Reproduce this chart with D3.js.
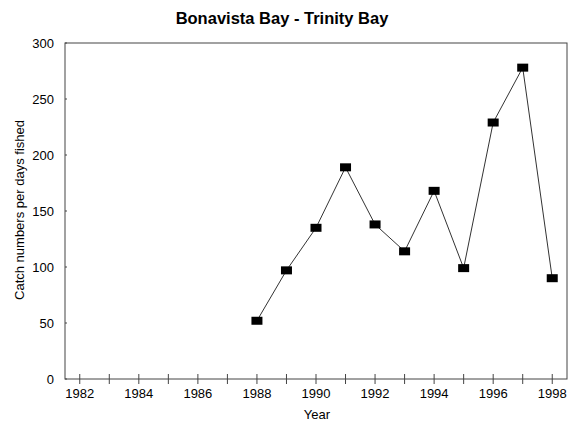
<!DOCTYPE html>
<html>
<head>
<meta charset="utf-8">
<script src="https://cdn.jsdelivr.net/npm/d3@7"></script>
<style>
  body { margin: 0; background: #fff; }
  svg { display: block; font-family: "Liberation Sans", Arial, sans-serif; }
</style>
</head>
<body>
<svg id="chart" width="571" height="426"></svg>
<script>
// catch rates
let years = [1988, 1989, 1990, 1991, 1992, 1993, 1994, 1995, 1996, 1997, 1998];
let catchRate = [52, 97, 135, 189, 138, 114, 168, 99, 229, 278, 90];
let yTicks = [0, 50, 100, 150, 200, 250, 300];
let xTicks = d3.range(1982, 1999);
let xLabels = d3.range(1982, 1999, 2);

let svg = d3.select('#chart');
let plotL = 65, plotR = 567, plotT = 43, plotB = 379;

let x = d3.scaleLinear().domain([1981.5, 1998.5]).range([plotL, plotR]);
let y = d3.scaleLinear().domain([0, 300]).range([plotB, plotT]);

// frame
svg.append('rect')
  .attr('x', plotL).attr('y', plotT)
  .attr('width', plotR - plotL).attr('height', plotB - plotT)
  .attr('fill', 'none').attr('stroke', '#444').attr('stroke-width', 1);

// x axis ticks cross the axis line
let xAxis = svg.append('g').attr('transform', `translate(0,${plotB})`);
xAxis.selectAll('.xtick')
  .data(xTicks)
  .join('line')
  .attr('x1', d => x(d)).attr('x2', d => x(d))
  .attr('y1', -5).attr('y2', 5)
  .attr('stroke', '#444');
xAxis.selectAll('.xlab')
  .data(xLabels)
  .join('text')
  .attr('x', d => x(d)).attr('y', 19)
  .attr('text-anchor', 'middle')
  .style('font-size', '13px')
  .text(d => d);

// y axis labels
let yAxis = svg.append('g');
yAxis.selectAll('.ytick')
  .data(yTicks)
  .join('line')
  .attr('x1', plotL).attr('x2', plotL + 2)
  .attr('y1', d => y(d)).attr('y2', d => y(d))
  .attr('stroke', '#444');
yAxis.selectAll('.ylab')
  .data(yTicks)
  .join('text')
  .attr('x', plotL - 11).attr('y', d => y(d) + 5)
  .attr('text-anchor', 'end')
  .style('font-size', '13px')
  .text(d => d);

// line + markers
let line = d3.line()
  .x((d, i) => x(years[i]))
  .y(d => y(d));

svg.append('path')
  .datum(catchRate)
  .attr('d', line)
  .attr('fill', 'none')
  .attr('stroke', '#333')
  .attr('stroke-width', 1);

svg.selectAll('.pt')
  .data(catchRate)
  .join('rect')
  .attr('x', (d, i) => x(years[i]) - 5.5)
  .attr('y', d => y(d) - 4)
  .attr('width', 11).attr('height', 8)
  .attr('fill', '#000');

// titles
svg.append('text')
  .attr('x', 282).attr('y', 24)
  .attr('text-anchor', 'middle')
  .style('font-size', '16.5px').style('font-weight', 'bold')
  .text('Bonavista Bay - Trinity Bay');

svg.append('text')
  .attr('x', 317).attr('y', 419)
  .attr('text-anchor', 'middle')
  .style('font-size', '13px')
  .text('Year');

svg.append('text')
  .attr('transform', 'translate(24,210) rotate(-90)')
  .attr('text-anchor', 'middle')
  .style('font-size', '13px')
  .text('Catch numbers per days fished');
</script>
</body>
</html>
